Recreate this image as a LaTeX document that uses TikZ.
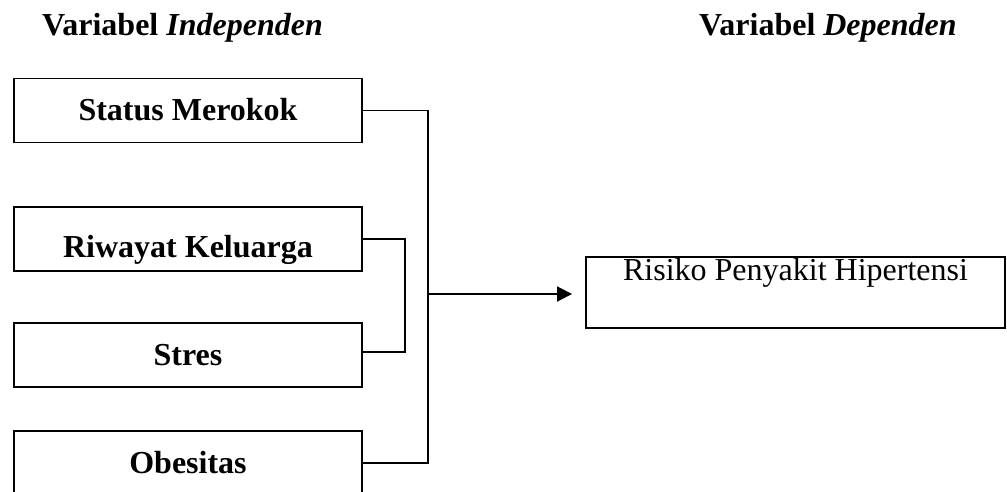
\documentclass[tikz,border=0pt]{standalone}
\usepackage{fontspec}
\setmainfont{Liberation Serif}
\usetikzlibrary{arrows.meta}
\tikzstyle{variabel} = [rectangle, minimum width=348pt, minimum height=64pt, inner sep=0pt, text height=42pt, text depth=22pt, text centered, draw=black, line width=1.9pt, font=\fontsize{32}{38}\selectfont\bfseries]
\tikzstyle{hasil} = [rectangle, minimum width=419pt, minimum height=71pt, inner sep=0pt, text height=23pt, text depth=48pt, text centered, draw=black, line width=1.9pt, font=\fontsize{32}{38}\selectfont]
\tikzstyle{judul} = [anchor=base west, inner sep=0pt, font=\fontsize{32}{38}\selectfont\bfseries]
\tikzstyle{line} = [line width=1.9pt]
\tikzstyle{arrow} = [line width=1.9pt, -{Triangle[length=15pt,width=15pt]}, shorten >=13pt]

\begin{document}
\begin{tikzpicture}[x=1pt, y=-1pt]
    \useasboundingbox (0,0) rectangle (1007,491);
    \node (judul1) [judul] at (42,35) {Variabel \textit{Independen}};
    \node (judul2) [judul] at (699,35) {Variabel \textit{Dependen}};

    \node (merokok) [variabel] at (188,110.5) {Status Merokok};
    \node (keluarga) [variabel, text height=50pt, text depth=14pt] at (188,239) {Riwayat Keluarga};
    \node (stres) [variabel] at (188,355) {Stres};
    \node (obesitas) [variabel] at (188,463) {Obesitas};
    \node (risiko) [hasil] at (795.5,292.5) {Risiko Penyakit Hipertensi};

    \coordinate (join) at (428,294);
    \draw [line] (merokok.east) -- (merokok.east -| join) -- (obesitas.east -| join) -- (obesitas.east);
    \draw [line] (keluarga.east) -- ++(42,0) |- ([yshift=3pt]stres.east);
    \draw [arrow] (join) -- (join -| risiko.west);
\end{tikzpicture}
\end{document}
